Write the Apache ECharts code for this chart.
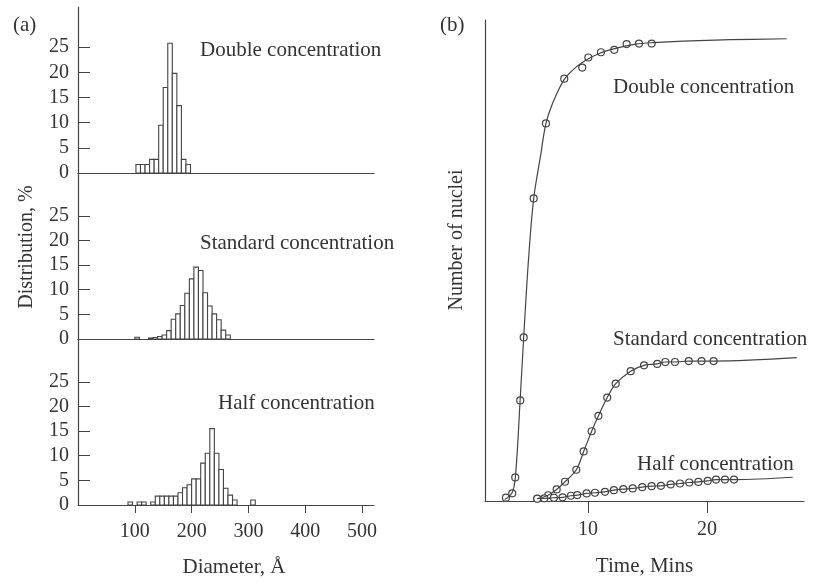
<!DOCTYPE html>
<html>
<head>
<meta charset="utf-8">
<script src="https://cdn.jsdelivr.net/npm/echarts@6/dist/echarts.min.js"></script>
<style>
  html, body { margin: 0; padding: 0; background: #fff; }
  #main { width: 816px; height: 582px; }
</style>
</head>
<body>
<div id="main"></div>
<script>
// ---------------- (a) size distributions, bin centres in Angstrom, 8 A bins
var BIN = 8;
var doubleBins = [106, 114, 122, 130, 138, 146, 154, 162, 170, 178, 186, 194];
var doubleDist = [1.7, 1.7, 1.7, 2.7, 2.7, 9.5, 17, 25.8, 19.8, 13.4, 2.7, 1.7];

var standardBins = [104, 128, 136, 144, 152, 160, 168, 176, 184, 192, 200, 208, 216, 224, 232, 240, 248, 256, 264];
var standardDist = [0.35, 0.2, 0.3, 0.5, 0.8, 1.7, 4.0, 5.1, 6.8, 9.3, 12.2, 14.6, 13.9, 9.4, 6.7, 5.1, 3.9, 1.8, 0.8];

var halfBins = [92, 108, 116, 132, 140, 148, 156, 164, 172, 180, 188, 196, 204, 212, 220, 228, 236, 244, 252, 260, 268, 276, 308];
var halfDist = [0.6, 0.6, 0.6, 0.6, 1.8, 1.8, 1.8, 1.8, 1.8, 2.5, 3.5, 4.1, 5.3, 5.3, 8.5, 10.5, 15.5, 10.5, 7.2, 3.4, 2.0, 1.0, 1.0];

var distTicks = [0, 5, 10, 15, 20, 25];
var diameterTicks = [100, 200, 300, 400, 500];

// ---------------- (b) number of nuclei vs time (arbitrary units 0-100)
var doubleTime   = [3.11, 3.64, 3.89, 4.31, 4.60, 5.44, 6.47, 8.01, 9.52, 10.03, 11.09, 12.21, 13.25, 14.29, 15.35];
var doubleNuclei = [0.7, 1.6, 4.9, 20.9, 34.0, 62.9, 78.5, 87.8, 90.1, 92.2, 93.3, 93.8, 95.0, 95.1, 95.1];
// fitted curve drawn through the double points
var doubleCurveTime   = [3.0, 3.6, 3.9, 4.3, 4.6, 5.0, 5.44, 6.0, 6.47, 7.0, 8.0, 9.0, 10.0, 11.0, 12.0, 13.0, 14.0, 15.5, 18, 22, 26.7];
var doubleCurveNuclei = [0.3, 1.6, 4.9, 20.9, 34, 50, 62.9, 71.5, 78.5, 82.5, 87.6, 90.2, 91.9, 93.1, 93.9, 94.5, 95.0, 95.3, 95.6, 95.9, 96.1];

var standardTime   = [5.74, 6.66, 7.37, 8.07, 9.02, 9.64, 10.31, 10.88, 11.62, 12.33, 13.59, 14.71, 15.82, 16.50, 17.31, 18.47, 19.54, 20.56];
var standardNuclei = [0.5, 1.2, 2.4, 4.0, 6.5, 10.3, 14.5, 17.7, 21.5, 24.4, 27.0, 28.2, 28.5, 28.9, 28.9, 29.1, 29.1, 29.1];
var standardTail = [27.54, 29.8];

var halfTime   = [5.74, 6.33, 7.14, 7.87, 8.57, 9.10, 9.89, 10.59, 11.43, 12.18, 12.97, 13.76, 14.56, 15.35, 16.13, 16.95, 17.73, 18.51, 19.27, 20.06, 20.76, 21.51, 22.27];
var halfNuclei = [0.47, 0.56, 0.68, 0.76, 1.09, 1.23, 1.58, 1.71, 1.91, 2.26, 2.47, 2.61, 2.88, 3.09, 3.15, 3.44, 3.64, 3.85, 3.97, 4.18, 4.46, 4.46, 4.46];
var halfTail = [27.2, 4.94];

var timeTicks = [10, 20];

var INK = '#444';
var TXT = '#333';
var FONT = '"Liberation Serif", "DejaVu Serif", serif';

function pairs(xs, ys) {
	return xs.map(function(x, i) { return [x, ys[i]]; });
}

function histItem(params, api) {
	var c = api.value(0), v = api.value(1);
	var p0 = api.coord([c - BIN / 2, 0]);
	var p1 = api.coord([c + BIN / 2, v]);
	return {
		type: 'rect',
		shape: { x: p0[0], y: p1[1], width: p1[0] - p0[0], height: p0[1] - p1[1] },
		style: { fill: '#fff', stroke: INK, lineWidth: 1.1 }
	};
}

var axisLine = { show: true, lineStyle: { color: INK, width: 1.2 } };

function distXAxis(idx, showLabels) {
	return {
		type: 'value', gridIndex: idx, min: 0, max: 521,
		axisLine: axisLine,
		splitLine: { show: false },
		axisTick: showLabels ? { show: true, length: 8, lineStyle: { color: INK }, customValues: diameterTicks } : { show: false },
		axisLabel: showLabels ? { show: true, customValues: diameterTicks, color: TXT, fontFamily: FONT, fontSize: 20, margin: 17 } : { show: false },
		name: showLabels ? 'Diameter, Å' : '',
		nameLocation: 'middle',
		nameGap: 52,
		nameTextStyle: { color: TXT, fontFamily: FONT, fontSize: 21, padding: [0, 0, 0, 16] }
	};
}

function distYAxis(idx, max) {
	return {
		type: 'value', gridIndex: idx, min: 0, max: max,
		axisLine: axisLine,
		splitLine: { show: false },
		axisTick: { show: true, inside: true, length: 12, lineStyle: { color: INK }, customValues: distTicks },
		axisLabel: { show: true, customValues: distTicks, color: TXT, fontFamily: FONT, fontSize: 20, margin: 9 }
	};
}

function label(text, x, y) {
	return { type: 'text', x: x, y: y, style: { text: text, fill: TXT, font: '21px ' + FONT, verticalAlign: 'middle' } };
}

function vlabel(text, x, y) {
	return {
		type: 'text', x: x, y: y, rotation: Math.PI / 2,
		style: { text: text, fill: TXT, font: '20px ' + FONT, align: 'center', verticalAlign: 'middle' }
	};
}

var dom = document.getElementById('main');
var myChart = echarts.init(dom, null, { renderer: 'canvas' });
var option = {
	backgroundColor: '#fff',
	animation: false,
	grid: [
		{ left: 78, top: 7, width: 296, height: 166 },
		{ left: 78, top: 173, width: 296, height: 166 },
		{ left: 78, top: 339, width: 296, height: 166 },
		{ left: 485, top: 20, width: 319, height: 486 }
	],
	xAxis: [
		distXAxis(0, false),
		distXAxis(1, false),
		distXAxis(2, true),
		{
			type: 'value', gridIndex: 3, min: 1.35, max: 28.15,
			axisLine: axisLine,
			splitLine: { show: false },
			axisTick: { show: true, length: 12, lineStyle: { color: INK }, customValues: timeTicks },
			axisLabel: { show: true, customValues: timeTicks, color: TXT, fontFamily: FONT, fontSize: 20, margin: 19 },
			name: 'Time, Mins',
			nameLocation: 'middle',
			nameGap: 55,
			nameTextStyle: { color: TXT, fontFamily: FONT, fontSize: 21 }
		}
	],
	yAxis: [
		distYAxis(0, 33),
		distYAxis(1, 33.7),
		distYAxis(2, 33.7),
		{
			type: 'value', gridIndex: 3, min: 0, max: 100,
			axisLine: axisLine,
			splitLine: { show: false },
			axisTick: { show: false },
			axisLabel: { show: false }
		}
	],
	series: [
		{ type: 'custom', xAxisIndex: 0, yAxisIndex: 0, renderItem: histItem, encode: { x: 0, y: 1 }, data: pairs(doubleBins, doubleDist) },
		{ type: 'custom', xAxisIndex: 1, yAxisIndex: 1, renderItem: histItem, encode: { x: 0, y: 1 }, data: pairs(standardBins, standardDist) },
		{ type: 'custom', xAxisIndex: 2, yAxisIndex: 2, renderItem: histItem, encode: { x: 0, y: 1 }, data: pairs(halfBins, halfDist) },

		{ type: 'line', xAxisIndex: 3, yAxisIndex: 3, smooth: 0.35, showSymbol: false,
		  lineStyle: { color: INK, width: 1.2 }, data: pairs(doubleCurveTime, doubleCurveNuclei) },
		{ type: 'line', xAxisIndex: 3, yAxisIndex: 3, smooth: 0.35, showSymbol: false,
		  lineStyle: { color: INK, width: 1.2 }, data: pairs(standardTime, standardNuclei).concat([standardTail]) },
		{ type: 'line', xAxisIndex: 3, yAxisIndex: 3, smooth: 0.35, showSymbol: false,
		  lineStyle: { color: INK, width: 1.2 }, data: pairs(halfTime, halfNuclei).concat([halfTail]) },

		{ type: 'scatter', xAxisIndex: 3, yAxisIndex: 3, symbol: 'circle', symbolSize: 7,
		  itemStyle: { color: '#fff', borderColor: INK, borderWidth: 1.2, opacity: 1 }, data: pairs(doubleTime, doubleNuclei) },
		{ type: 'scatter', xAxisIndex: 3, yAxisIndex: 3, symbol: 'circle', symbolSize: 7,
		  itemStyle: { color: '#fff', borderColor: INK, borderWidth: 1.2, opacity: 1 }, data: pairs(standardTime, standardNuclei) },
		{ type: 'scatter', xAxisIndex: 3, yAxisIndex: 3, symbol: 'circle', symbolSize: 7,
		  itemStyle: { color: '#fff', borderColor: INK, borderWidth: 1.2, opacity: 1 }, data: pairs(halfTime, halfNuclei) }
	],
	graphic: [
		label('(a)', 13, 25),
		label('(b)', 440, 25),
		label('Double concentration', 200, 50),
		label('Standard concentration', 200, 243),
		label('Half concentration', 218, 403),
		label('Double concentration', 613, 87),
		label('Standard concentration', 613, 339),
		label('Half concentration', 637, 464),
		vlabel('Distribution, %', 27, 247),
		vlabel('Number of nuclei', 457, 240)
	]
};
if(option && typeof option === "object") {
	myChart.setOption(option, true);
}
</script>
</body>
</html>
